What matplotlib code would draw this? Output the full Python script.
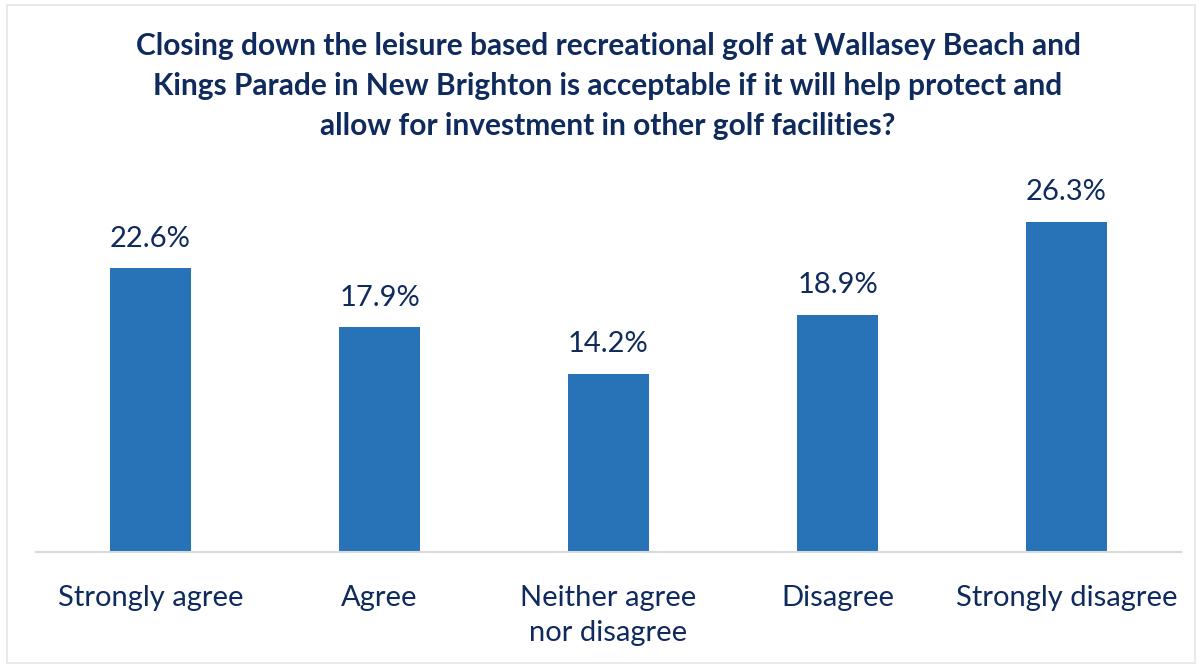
import matplotlib
matplotlib.use("Agg")
import matplotlib.pyplot as plt
from matplotlib.patches import Rectangle

# survey responses
categories = ["Strongly agree", "Agree", "Neither agree\nnor disagree",
              "Disagree", "Strongly disagree"]
percentages = [22.6, 17.9, 14.2, 18.9, 26.3]

title = ("Closing down the leisure based recreational golf at Wallasey Beach and\n"
         "Kings Parade in New Brighton is acceptable if it will help protect and\n"
         "allow for investment in other golf facilities?")

navy = "#0f2a5c"
bar_color = "#2872b8"

plt.rcParams["font.family"] = ["Lato", "DejaVu Sans"]

fig = plt.figure(figsize=(12.02, 6.65), dpi=100)
W, H = 1202, 665

# thin grey frame round the whole chart
fig.patches.append(Rectangle((7 / W, 2 / H), 1188 / W, 658 / H,
                             transform=fig.transFigure, fill=False,
                             edgecolor="#e6e6e6", linewidth=1.2))

ax = fig.add_axes([36 / W, (H - 552) / H, 1145 / W, (552 - 175.5) / H])
x = range(len(categories))
bars = ax.bar(x, percentages, width=0.354, color=bar_color, zorder=2)

for rect, v in zip(bars, percentages):
    ax.annotate(f"{v:.1f}%", (rect.get_x() + rect.get_width() / 2, v),
                xytext=(0, 12), textcoords="offset points",
                ha="center", va="bottom", fontsize=21, color=navy)

ax.set_xlim(-0.5, 4.5)
ax.set_ylim(0, 30)
ax.set_yticks([])
ax.set_xticks(list(x))
ax.set_xticklabels(categories, fontsize=21, color=navy, linespacing=1.42)
ax.tick_params(axis="x", length=0, pad=24)
for side in ["top", "left", "right"]:
    ax.spines[side].set_visible(False)
ax.spines["bottom"].set_color("#d9d9d9")
ax.spines["bottom"].set_linewidth(1.5)

fig.text(608 / W, 1 - 32 / H, title, ha="center", va="top",
         fontsize=21.5, fontweight="bold", color=navy, linespacing=1.53)

fig.savefig("out.png", dpi=100)
